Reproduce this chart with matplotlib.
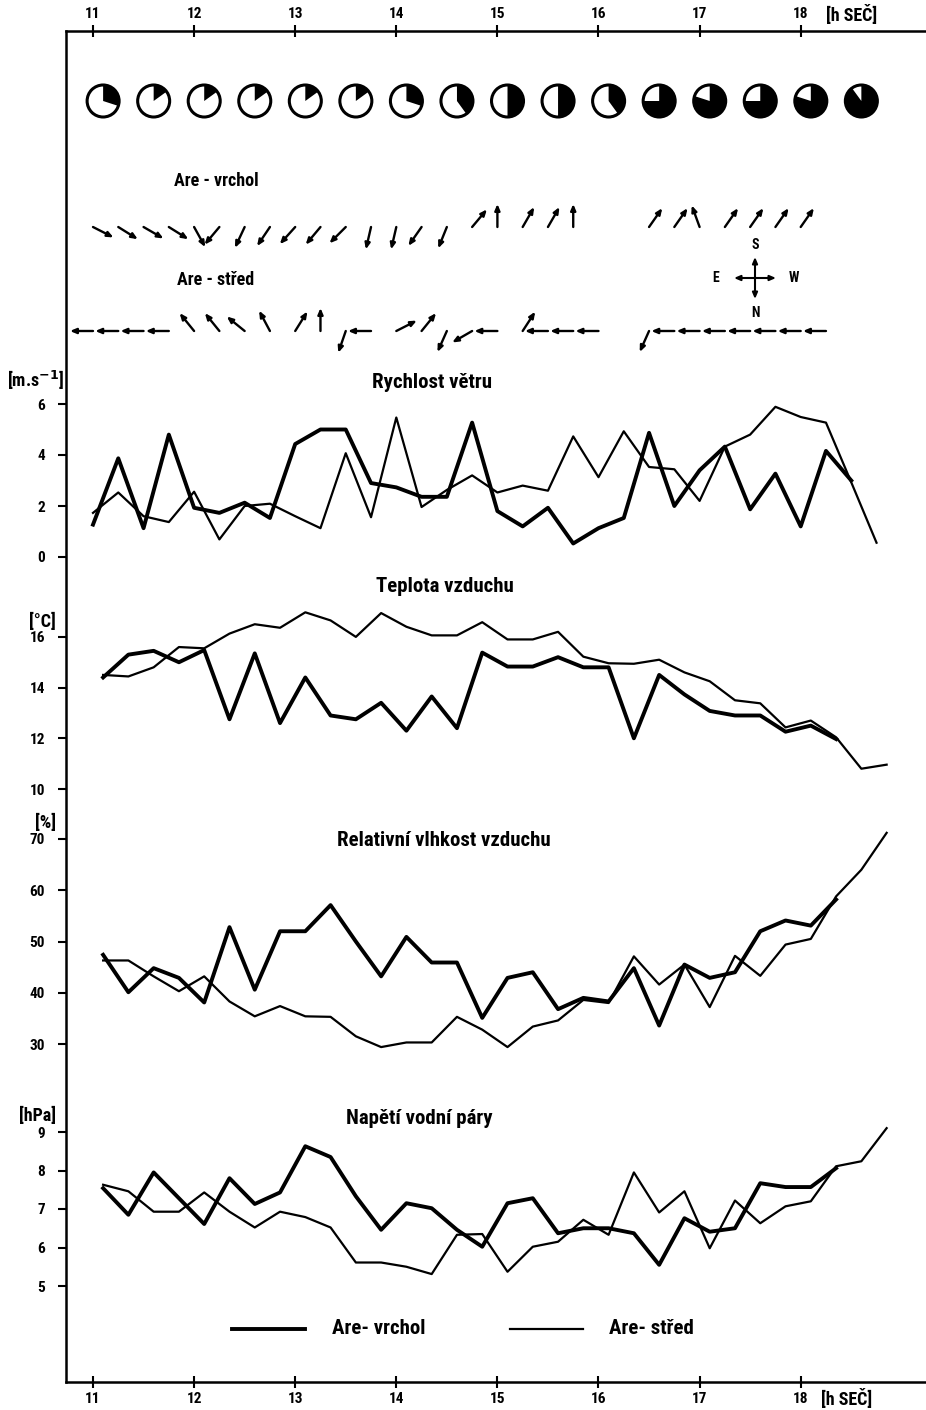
import numpy as np
import matplotlib.pyplot as plt
from matplotlib import font_manager
from matplotlib.patches import Ellipse, Polygon

# ---------------- data (15-min steps) ----------------
# wind series start 11:00, other series start ~11:06
wind_t0 = 11.0
meteo_t0 = 11.1
step = 0.25

wind_vrchol = [1.27, 3.87, 1.13, 4.8, 1.93, 1.73, 2.13, 1.53, 4.43, 5.0, 5.0, 2.9,
               2.73, 2.36, 2.36, 5.27, 1.8, 1.2, 1.93, 0.53, 1.13, 1.53, 4.87, 2.0,
               3.4, 4.33, 1.87, 3.27, 1.2, 4.16, 3.0]
wind_stred = [1.73, 2.53, 1.6, 1.37, 2.56, 0.69, 2.0, 2.09, 1.6, 1.13, 4.07, 1.56,
              5.47, 1.96, 2.63, 3.2, 2.53, 2.8, 2.6, 4.73, 3.13, 4.93, 3.53, 3.44,
              2.2, 4.33, 4.8, 5.89, 5.49, 5.27, 2.93, 0.56]

temp_vrchol = [14.4, 15.3, 15.45, 15.0, 15.48, 12.75, 15.35, 12.6, 14.4, 12.9, 12.75,
               13.4, 12.3, 13.65, 12.4, 15.38, 14.83, 14.83, 15.2, 14.8, 14.8, 12.0,
               14.5, 13.73, 13.08, 12.9, 12.9, 12.26, 12.5, 11.97]
temp_stred = [14.5, 14.44, 14.8, 15.6, 15.55, 16.13, 16.5, 16.36, 16.97, 16.65, 16.0,
              16.94, 16.4, 16.06, 16.06, 16.58, 15.9, 15.9, 16.2, 15.22, 14.96, 14.94,
              15.1, 14.6, 14.25, 13.5, 13.38, 12.43, 12.7, 12.04, 10.8, 10.96]

rh_vrchol = [47.4, 40.1, 44.8, 42.9, 38.1, 52.8, 40.6, 52.0, 52.0, 57.1, 50.0, 43.2,
             50.9, 45.9, 45.9, 35.1, 42.9, 44.0, 36.8, 39.0, 38.3, 44.8, 33.6, 45.5,
             42.9, 44.0, 52.0, 54.1, 53.1, 58.2]
rh_stred = [46.3, 46.3, 43.2, 40.3, 43.2, 38.3, 35.4, 37.4, 35.4, 35.3, 31.5, 29.4,
            30.3, 30.3, 35.3, 32.8, 29.4, 33.4, 34.6, 38.6, 38.0, 47.1, 41.6, 45.5,
            37.2, 47.2, 43.3, 49.4, 50.5, 58.8, 64.0, 71.2]

vp_vrchol = [7.54, 6.85, 7.95, 7.28, 6.61, 7.80, 7.13, 7.43, 8.63, 8.35, 7.33, 6.46,
             7.15, 7.02, 6.46, 6.02, 7.15, 7.28, 6.37, 6.5, 6.5, 6.37, 5.55, 6.76,
             6.41, 6.5, 7.67, 7.57, 7.57, 8.06]
vp_stred = [7.63, 7.46, 6.93, 6.93, 7.43, 6.93, 6.52, 6.93, 6.79, 6.52, 5.61, 5.61,
            5.50, 5.31, 6.33, 6.35, 5.37, 6.02, 6.15, 6.72, 6.33, 7.95, 6.91, 7.46,
            5.98, 7.22, 6.63, 7.07, 7.2, 8.11, 8.24, 9.1]

# cloudiness every 30 min (tenths of sky covered)
cloud_t0 = 11.1
cloud_cover = [3, 1.5, 1.5, 1.5, 1.5, 1.5, 3, 4, 5, 5, 4, 7.5, 8, 7.5, 8, 9]

# wind direction every 15 min, azimuth in the chart's compass (N down, S up, E left, W right)
dir_vrchol = [297, 302, 300, 302, 331, 40, 25, 34, 42, 40, 45, 13, 13, 35, 22,
              220, 180, 210, 210, 180, None, None, 215, 215, 160, 215, 215, 215, 215]
dir_stred = [90, 90, 90, 90, 141, 141, 129, 152, 212, 180, 19, 90, 243, 219, 24,
             60, 90, 213, 90, 90, 90, None, 24, 90, 90, 90, 90, 90, 90, 90]

hour_ticks = [11, 12, 13, 14, 15, 16, 17, 18]

# ---------------- layout helpers ----------------
W, H = 926, 1410
PXH = 101.1          # pixels per hour
X0 = 93              # pixel of 11 h


def hx(px):
    return 11 + (px - X0) / PXH


names = {f.name for f in font_manager.fontManager.ttflist}
FONT = 'DejaVu Sans'
for cand in ['Liberation Sans Narrow', 'Roboto Condensed', 'Open Sans Condensed']:
    if cand in names:
        FONT = cand
        break
plt.rcParams['font.family'] = [FONT, 'DejaVu Sans']
plt.rcParams['font.weight'] = 'bold'

fig = plt.figure(figsize=(W / 100, H / 100), dpi=100)
fig.patch.set_facecolor('white')

XL = (hx(66), hx(926))

# main frame: x in hours, y in pixels
frame = fig.add_axes([66 / W, 1 - 1382 / H, (926 - 66) / W, (1382 - 31) / H])
frame.set_xlim(*XL)
frame.set_ylim(1382, 31)
frame.set_facecolor('none')
frame.spines['right'].set_visible(False)
for s in ['left', 'top', 'bottom']:
    frame.spines[s].set_linewidth(1.8)
frame.set_yticks([])
frame.set_xticks(hour_ticks)
frame.set_xticklabels([str(h) for h in hour_ticks])
frame.tick_params(axis='x', top=True, labeltop=True, bottom=True, labelbottom=True,
                  direction='inout', length=9, width=1.5, labelsize=11, pad=3)
fig.text(852 / W, 1 - 15 / H, '[h SEČ]', ha='center', va='center', fontsize=13)
fig.text(847 / W, 1 - 1399 / H, '[h SEČ]', ha='center', va='center', fontsize=13)

# cloud circles
R = 16
for k, c in enumerate(cloud_cover):
    t = cloud_t0 + 0.5 * k
    cx = X0 + (t - 11) * PXH
    cy = 101
    frac = c / 10
    ang = np.linspace(np.pi / 2, np.pi / 2 - 2 * np.pi * frac, 60)
    pts = [(hx(cx), cy)] + [(hx(cx + R * np.cos(a)), cy - R * np.sin(a)) for a in ang]
    frame.add_patch(Polygon(pts, closed=True, facecolor='black', edgecolor='none'))
    frame.add_patch(Ellipse((t, cy), 2 * R / PXH, 2 * R, facecolor='none',
                            edgecolor='black', lw=2.2))


def draw_dir(t, y, az, L=23, lw=1.7):
    th = np.deg2rad(-90 - az)
    x0 = X0 + (t - 11) * PXH
    x1 = x0 + L * np.cos(th)
    y1 = y - L * np.sin(th)
    frame.annotate('', xy=(hx(x1), y1), xytext=(t, y),
                   arrowprops=dict(arrowstyle='-|>,head_length=0.35,head_width=0.15',
                                   lw=lw, color='black', shrinkA=0, shrinkB=0))


for i, az in enumerate(dir_vrchol):
    if az is not None:
        draw_dir(wind_t0 + step * i, 227, az)
for i, az in enumerate(dir_stred):
    if az is not None:
        draw_dir(wind_t0 + step * i, 331, az)

fig.text(216 / W, 1 - 181 / H, 'Are - vrchol', ha='center', va='center', fontsize=13)
fig.text(216 / W, 1 - 280 / H, 'Are - střed', ha='center', va='center', fontsize=13)

# compass
cx, cy = 755, 278
for az in [0, 90, 180, 270]:
    draw_dir(hx(cx), cy, az, L=21, lw=1.5)
for lab, dx, dy in [('S', 0, -33), ('N', 0, 35), ('E', -39, 0), ('W', 39, 0)]:
    fig.text((cx + dx) / W, 1 - (cy + dy) / H, lab, ha='center', va='center', fontsize=10)


# ---------------- data panels ----------------
def panel(top, bot, v0, px0, ppu, ticks, unit, unit_xy, title, title_xy):
    ax = fig.add_axes([66 / W, 1 - bot / H, (926 - 66) / W, (bot - top) / H])
    ax.set_facecolor('none')
    ax.set_xlim(*XL)
    ax.set_ylim(v0 + (px0 - bot) / ppu, v0 + (px0 - top) / ppu)
    for s in ax.spines.values():
        s.set_visible(False)
    ax.set_xticks([])
    ax.set_yticks(ticks)
    ax.set_yticklabels([str(v) for v in ticks])
    ax.tick_params(axis='y', direction='out', length=6, width=1.5, labelsize=11, pad=9)
    fig.text(unit_xy[0] / W, 1 - unit_xy[1] / H, unit, ha='center', va='center', fontsize=13)
    fig.text(title_xy[0] / W, 1 - title_xy[1] / H, title, ha='center', va='center', fontsize=15)
    return ax


def series_t(t0, n):
    return [t0 + step * i for i in range(n)]


THICK, THIN = 2.8, 1.6

ax = panel(370, 575, 0, 557, 25.5, [0, 2, 4, 6], '[m.s$^{-1}$]', (36, 380),
           'Rychlost větru', (432, 383))
ax.plot(series_t(wind_t0, len(wind_vrchol)), wind_vrchol, color='black', lw=THICK)
ax.plot(series_t(wind_t0, len(wind_stred)), wind_stred, color='black', lw=THIN)

ax = panel(595, 800, 10, 789, 25.35, [10, 12, 14, 16], '[°C]', (42, 622),
           'Teplota vzduchu', (445, 586))
ax.plot(series_t(meteo_t0, len(temp_vrchol)), temp_vrchol, color='black', lw=THICK)
ax.plot(series_t(meteo_t0, len(temp_stred)), temp_stred, color='black', lw=THIN)

ax = panel(805, 1080, 30, 1044, 5.125, [30, 40, 50, 60, 70], '[%]', (46, 823),
           'Relativní vlhkost vzduchu', (444, 840))
ax.plot(series_t(meteo_t0, len(rh_vrchol)), rh_vrchol, color='black', lw=THICK)
ax.plot(series_t(meteo_t0, len(rh_stred)), rh_stred, color='black', lw=THIN)

ax = panel(1100, 1300, 5, 1286, 38.5, [5, 6, 7, 8, 9], '[hPa]', (38, 1116),
           'Napětí vodní páry', (419, 1118))
ax.plot(series_t(meteo_t0, len(vp_vrchol)), vp_vrchol, color='black', lw=THICK)
ax.plot(series_t(meteo_t0, len(vp_stred)), vp_stred, color='black', lw=THIN)

# legend
frame.plot([hx(232), hx(305)], [1329, 1329], color='black', lw=THICK)
frame.plot([hx(510), hx(583)], [1329, 1329], color='black', lw=THIN)
fig.text(379 / W, 1 - 1329 / H, 'Are- vrchol', ha='center', va='center', fontsize=15)
fig.text(651 / W, 1 - 1329 / H, 'Are- střed', ha='center', va='center', fontsize=15)

fig.savefig('out.png', dpi=100, facecolor='white')
